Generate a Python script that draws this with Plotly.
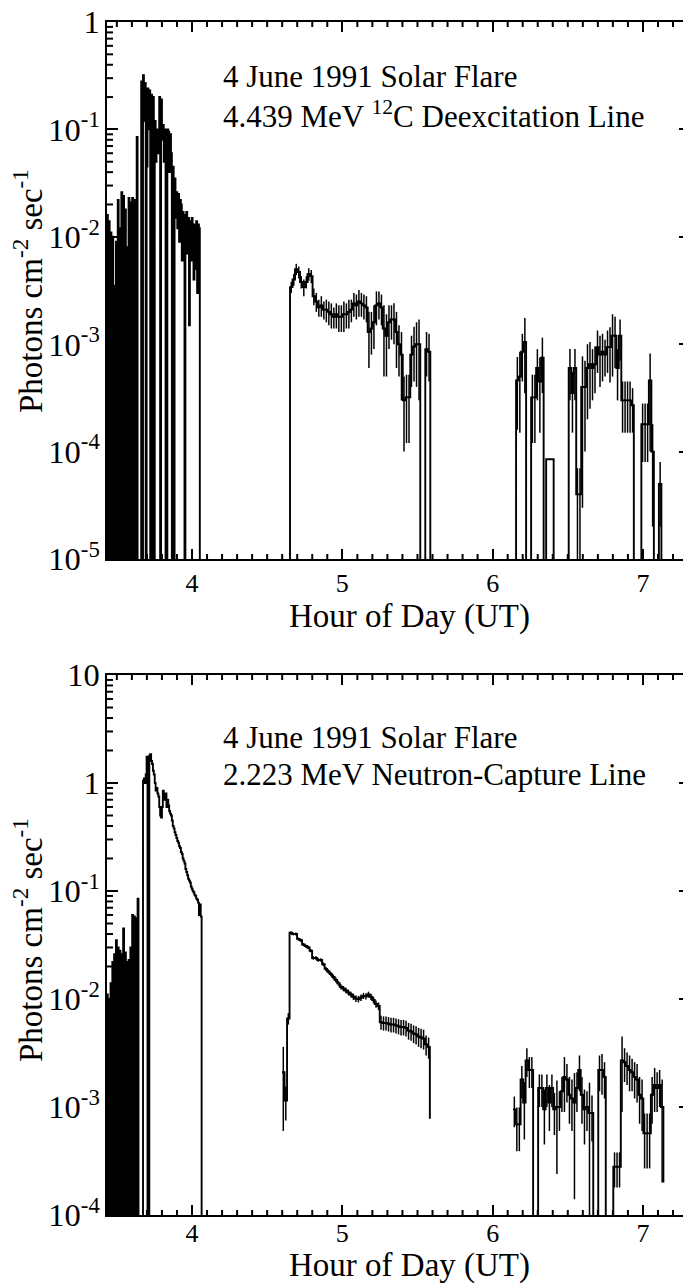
import numpy as np
import plotly.graph_objects as go
from plotly.subplots import make_subplots

# ---------------- data: photons cm^-2 s^-1 per time bin (0 = below plot floor) ----------------
# 4.439 MeV 12C line
c12_fast_start = 3.434
c12_fast_width = 0.006
c12_fast = [0.016, 0, 0.014, 0, 0.011, 0, 0.01, 0, 0.0035, 0,
            0.009, 0, 0.022, 0, 0.012, 0, 0.026, 0, 0.024, 0,
            0.018, 0, 0.008, 0, 0.023, 0, 0.021, 0, 0.023, 0,
            0.022, 0, 0.02, 0.085, 0, 0, 0, 0,
            0.28, 0, 0.32, 0.12, 0.27, 0, 0.045, 0.24, 0.1, 0.23,
            0, 0.21, 0, 0.2, 0, 0.12, 0.05, 0.1, 0.06, 0.09,
            0.2, 0, 0.19, 0.08, 0.11, 0.05, 0.1, 0, 0, 0.1,
            0.095, 0.04, 0.09, 0.06, 0, 0.045, 0, 0.035, 0.015, 0.026,
            0.012, 0.025, 0.009, 0.022, 0.02, 0.006, 0.017, 0.008, 0, 0.016,
            0.017, 0.007, 0.015, 0.0015, 0.014, 0.006, 0.015, 0.012, 0.004, 0.013,
            0.005, 0.014, 0.003, 0.013, 0.012, 0]

c12_mid_start = 4.652
c12_mid = [0.0034, 0.0040, 0.0050, 0.0047, 0.0038, 0.0034, 0.0038, 0.0045, 0.0043, 0.0028,
           0.0025, 0.0022, 0.0023, 0.0021, 0.0021, 0.0020, 0.0019, 0.0018, 0.0019, 0.0018,
           0.0018, 0.0019, 0.0019, 0.0020, 0.0021, 0.0024, 0.0023, 0.0025, 0.0024, 0.0023,
           0.0022, 0.0013, 0.0014, 0.0016, 0.0023, 0.0024, 0.0022, 0.0014, 0.0012, 0.0016,
           0.0017, 0.0017, 0.0013, 0.0010, 0.0008, 0.0003, 0.00032, 0.00032, 0.0008, 0.00095,
           0.0010, 0.0010, 0, 0, 0.0009, 0.00085]
c12_mid_err = [0.0004, 0.0005, 0.0006, 0.0006, 0.0005, 0.0006, 0.0005, 0.0006, 0.0006, 0.0005,
               0.0005, 0.0004, 0.0005, 0.0004, 0.0005, 0.0005, 0.0005, 0.0004, 0.0005, 0.0005,
               0.0005, 0.0006, 0.0005, 0.0006, 0.0005, 0.0006, 0.0006, 0.0007, 0.0006, 0.0006,
               0.0006, 0.0007, 0.0006, 0.0007, 0.0008, 0.0007, 0.0007, 0.0009, 0.0007, 0.0007,
               0.0006, 0.0007, 0.0007, 0.0005, 0.0005, 0.0002, 0.0002, 0.0002, 0.0004, 0.0005,
               0.0006, 0.0007, 0, 0, 0.0004, 0.0004]

c12_late_start = 6.156
c12_late = [0.00046, 0.0005, 0.00085, 0.00105, 0, 0, 0.00032, 0.00032, 0.0006, 0.00045,
            0.00075, 0, 0.000085, 0.000085, 0.000085, 0, 0, 0, 0, 0,
            0, 0.0006, 0.00035, 0.0006, 0.00004, 0.00004, 0.0004, 0.0004, 0.0006, 0.00065,
            0.0006, 0.00065, 0.00094, 0.0008, 0.00085, 0.0008, 0.00094, 0.00094, 0.0012, 0.0012,
            0.0006, 0.0012, 0.0003, 0.0003, 0.0003, 0.0003, 0.00027, 0, 0, 0,
            0.00018, 0.00018, 0.00018, 0.00046, 0.0001, 0, 0, 0.00005, 0]
c12_late_err = [0.0003, 0.00035, 0.0004, 0.0007, 0, 0, 0.0002, 0.0002, 0.0003, 0.0003,
                0.0004, 0, 0, 0, 0, 0, 0, 0, 0, 0,
                0, 0.0003, 0.0002, 0.0003, 0.00003, 0.00003, 0.00037, 0.0003, 0.0004, 0.0004,
                0.0003, 0.0003, 0.0004, 0.0004, 0.0004, 0.0003, 0.0004, 0.0005, 0.0007, 0.0006,
                0.0003, 0.0005, 0.00015, 0.00015, 0.00015, 0.00015, 0.00012, 0, 0, 0,
                0.0001, 0.0001, 0.0001, 0.00036, 0.00008, 0, 0, 0.00003, 0]

# 2.223 MeV neutron-capture line
nc_fast_start = 3.434
nc_fast_width = 0.006
nc_fast = [0.011, 0, 0.01, 0, 0.014, 0, 0.022, 0, 0.026, 0,
           0.035, 0, 0.03, 0, 0.028, 0, 0.026, 0, 0.045, 0,
           0.027, 0, 0.022, 0, 0.023, 0, 0.03, 0, 0.06, 0,
           0.058, 0, 0.056, 0, 0.085, 0, 0, 0, 0, 0,
           1.05, 1.1, 1.0, 1.2, 1.75, 0, 0, 1.8, 1.85, 1.6,
           1.5, 1.3, 1.2, 1.0, 0.85, 0.9, 0.8, 0.75, 0.6, 0.5,
           0.48, 0.6, 0.85, 0.8, 0.7, 0.8, 0.6, 0.7, 0.62, 0.55,
           0.52, 0.5, 0.45, 0.4, 0.38, 0.35, 0.33, 0.31, 0.29, 0.28,
           0.26, 0.25, 0.23, 0.22, 0.2, 0.19, 0.18, 0.16, 0.15, 0.14,
           0.13, 0.125, 0.12, 0.11, 0.105, 0.1, 0.097, 0.092, 0.09, 0.085,
           0.083, 0.078, 0.06, 0.075, 0.058, 0]

nc_mid_start = 4.599
nc_mid_end = 0.00078
nc_mid = [0.0021, 0.00115, 0.0066, 0.041, 0.040, 0.040, 0.036, 0.035, 0.032, 0.031,
          0.030, 0.028, 0.024, 0.024, 0.023, 0.023, 0.021, 0.019, 0.018, 0.017,
          0.016, 0.015, 0.014, 0.013, 0.0125, 0.012, 0.0115, 0.011, 0.0105, 0.0101,
          0.010, 0.0103, 0.0107, 0.0106, 0.011, 0.0105, 0.0098, 0.009, 0.0086, 0.0061,
          0.0060, 0.0060, 0.0059, 0.0058, 0.0058, 0.0057, 0.0056, 0.0055, 0.0055, 0.0054,
          0.0051, 0.0050, 0.0048, 0.0047, 0.0045, 0.0044, 0.0043, 0.0038, 0.0036]
nc_mid_err = [0.0015, 0.0004, 0.0008, 0.0012, 0.0012, 0.0012, 0.0011, 0.0011, 0.001, 0.001,
              0.001, 0.0009, 0.0009, 0.0009, 0.0009, 0.0009, 0.0008, 0.0008, 0.0008, 0.0008,
              0.0008, 0.0008, 0.0007, 0.0007, 0.0007, 0.0007, 0.0007, 0.0007, 0.0007, 0.0007,
              0.0007, 0.0007, 0.0007, 0.0007, 0.0007, 0.0007, 0.0007, 0.0007, 0.0007, 0.0009,
              0.0009, 0.0009, 0.0009, 0.0009, 0.0009, 0.0009, 0.0009, 0.0009, 0.0009, 0.0009,
              0.0009, 0.0009, 0.0009, 0.0009, 0.0009, 0.0009, 0.0009, 0.0008, 0.0008]

nc_late_start = 6.136
nc_late_end = 0.0002
nc_late = [0.00095, 0.00069, 0.00069, 0.0018, 0.0011, 0.0027, 0.0022, 0.0022, 0, 0,
           0.0015, 0.0015, 0.00095, 0.0015, 0.0011, 0.0015, 0.00095, 0.001, 0.001, 0.0014,
           0.0019, 0.0018, 0.0013, 0.0012, 0.0011, 0.0015, 0.0022, 0.0013, 0.00095, 0.001,
           0.00088, 0.00088, 0, 0, 0.0022, 0.0022, 0.0019, 0, 0, 0,
           0.00028, 0.00028, 0.00028, 0.0027, 0.0026, 0.0024, 0.0022, 0.0021, 0.0019, 0.0018,
           0.0013, 0.0012, 0.00057, 0.00057, 0.00057, 0.0013, 0.0016, 0.0015, 0.0016, 0.001]
nc_late_err = [0.0003, 0.0003, 0.0003, 0.0006, 0.0006, 0.0008, 0.0007, 0.0007, 0, 0,
               0.0005, 0.0005, 0.0005, 0.0005, 0.0005, 0.0005, 0.0004, 0.00076, 0.0004, 0.0005,
               0.001, 0.0007, 0.0006, 0.0006, 0.00096, 0.0006, 0.0008, 0.0006, 0.0005, 0.0004,
               0.0008, 0.0004, 0, 0, 0.0008, 0.0009, 0.0007, 0, 0, 0,
               0.0001, 0.0001, 0.0001, 0.0018, 0.0009, 0.0008, 0.0008, 0.0007, 0.0007, 0.0007,
               0.0006, 0.0006, 0.0003, 0.0003, 0.0003, 0.0006, 0.0007, 0.0006, 0.0006, 0.0008]

minute = 1.0 / 60

# default plotly log labels -> the hyphen style used on the original figure
y_exponents = [-5, -4, -3, -2, -1]
y_tick_text = ["10<sup>-5</sup>", "10<sup>-4</sup>", "10<sup>-3</sup>", "10<sup>-2</sup>", "10<sup>-1</sup>"]

FLOOR = 1e-8
FONT = "Liberation Serif"
X_RANGE = [3.4345, 7.313]
Y_RANGES = [[-5, 0], [-4, 1]]


def steps(start, width, vals, first=0.0, last=0.0):
    # histogram outline drawn with an hv step line
    edges = start + width * np.arange(len(vals) + 1)
    if first is None:
        first = vals[0]
    x = np.concatenate([[edges[0]], edges])
    y = np.array([first] + list(vals) + [last], dtype=float)
    y[y <= 0] = FLOOR
    return x, y


def err_points(start, width, vals, errs):
    xs, ys, es = [], [], []
    for i, (v, e) in enumerate(zip(vals, errs)):
        if v > 0 and e > 0:
            xs.append(start + width * (i + 0.5))
            ys.append(v)
            es.append(e)
    return xs, ys, es


fig = make_subplots(rows=2, cols=1, vertical_spacing=0.1)

segments = [
    (1, c12_fast_start, c12_fast_width, c12_fast, None, 0.0, 0.0),
    (1, c12_mid_start, minute, c12_mid, c12_mid_err, 0.0, 0.0),
    (1, c12_late_start, minute, c12_late, c12_late_err, 0.0, 0.0),
    (2, nc_fast_start, nc_fast_width, nc_fast, None, 0.0, 0.0),
    (2, nc_mid_start, minute, nc_mid, nc_mid_err, None, nc_mid_end),
    (2, nc_late_start, minute, nc_late, nc_late_err, None, nc_late_end),
]

for row, start, width, vals, errs, first, last in segments:
    x, y = steps(start, width, vals, first, last)
    fig.add_trace(
        go.Scatter(x=x, y=y, mode="lines",
                   line=dict(color="black", width=1.9, shape="hv", simplify=False),
                   hoverinfo="skip", showlegend=False),
        row=row, col=1,
    )
    if errs is not None:
        ex, ey, ee = err_points(start, width, vals, errs)
        fig.add_trace(
            go.Scatter(x=ex, y=ey, mode="markers", marker=dict(size=2, color="black"),
                       error_y=dict(type="data", array=ee, symmetric=True, width=0,
                                    thickness=1.5, color="black"),
                       hoverinfo="skip", showlegend=False),
            row=row, col=1,
        )

# pixel geometry of the two frames, in picture coordinates;
# the html body adds an 8 px margin, so the figure is drawn 8 px smaller
OFF = 8
L, R, T, B = 107, 690, 22, 1215
W, H = 691 - OFF, 1288 - OFF


def px_x(px):
    return (px - L) / (R - L)


def px_y(py):
    return (B - py) / (B - T)


tick_font = dict(family=FONT, size=26, color="black")
axis_style = dict(
    showline=True, linecolor="black", linewidth=2, mirror="allticks",
    ticks="inside", tickcolor="black", tickwidth=2,
    showgrid=False, zeroline=False, automargin=False,
    ticklabeloverflow="allow", tickfont=tick_font,
)

fig.update_xaxes(range=X_RANGE, tickmode="linear", tick0=4, dtick=1, ticklen=10,
                 domain=[0, 1], **axis_style)
fig.update_xaxes(ticklabelstandoff=0, row=1, col=1)
fig.update_xaxes(ticklabelstandoff=-6, row=2, col=1)

alias = {"10<sup>\u2212%d</sup>" % (-e): t for e, t in zip(y_exponents, y_tick_text)}
fig.update_yaxes(type="log", tickmode="linear", tick0=0, dtick=1, exponentformat="power",
                 labelalias=alias, ticklen=11, ticklabelstandoff=0, **axis_style)
fig.update_yaxes(range=Y_RANGES[0], domain=[px_y(559), 1.0], row=1, col=1)
fig.update_yaxes(range=Y_RANGES[1], domain=[0.0, px_y(675)], row=2, col=1)

# minor ticks (every 6 minutes on x, 2..9 per decade on y), drawn inside on all four sides
minor_x = [t for t in np.round(np.arange(3.5, X_RANGE[1], 0.1), 1) if abs(t - round(t)) > 1e-6]
tick_line = dict(color="black", width=2)
shapes = []
for n, (xa, ya) in enumerate([("x", "y"), ("x2", "y2")]):
    lo, hi = Y_RANGES[n]
    for t in minor_x:
        for anchor, sign in [(0, 1), (1, -1)]:
            shapes.append(dict(type="line", xref=xa, yref=ya + " domain", x0=t, x1=t,
                               ysizemode="pixel", yanchor=anchor, y0=0, y1=5 * sign,
                               line=tick_line))
    for k in range(lo, hi):
        for m in range(2, 10):
            frac = (np.log10(m * 10.0 ** k) - lo) / (hi - lo)
            for anchor, sign in [(0, 1), (1, -1)]:
                shapes.append(dict(type="line", xref=xa + " domain", yref=ya + " domain",
                                   y0=frac, y1=frac, xsizemode="pixel", xanchor=anchor,
                                   x0=0, x1=6 * sign, line=tick_line))

ann_font = dict(family=FONT, size=31, color="black")
title_font = dict(family=FONT, size=33, color="black")
ytitle = "Photons cm<sup>-2</sup> sec<sup>-1</sup>"
xtitle = "Hour of Day (UT)"

annotations = [
    dict(text="4 June 1991 Solar Flare", x=px_x(221), y=px_y(76), xanchor="left", yanchor="middle", font=ann_font),
    dict(text="4.439 MeV <sup>12</sup>C Deexcitation Line", x=px_x(221), y=px_y(114), xanchor="left", yanchor="middle", font=ann_font),
    dict(text="4 June 1991 Solar Flare", x=px_x(221), y=px_y(737), xanchor="left", yanchor="middle", font=ann_font),
    dict(text="2.223 MeV Neutron-Capture Line", x=px_x(221), y=px_y(775), xanchor="left", yanchor="middle", font=ann_font),
    dict(text=xtitle, x=px_x(409), y=px_y(616), xanchor="center", yanchor="middle", font=title_font),
    dict(text=xtitle, x=px_x(409), y=px_y(1265), xanchor="center", yanchor="middle", font=title_font),
    dict(text=ytitle, x=px_x(28), y=px_y(291), textangle=-90, xanchor="center", yanchor="middle", font=title_font),
    dict(text=ytitle, x=px_x(28), y=px_y(940), textangle=-90, xanchor="center", yanchor="middle", font=title_font),
]
for a in annotations:
    a.update(xref="paper", yref="paper", showarrow=False)

fig.update_layout(
    template="none",
    width=W, height=H,
    margin=dict(l=L - OFF, r=691 - R, t=T - OFF, b=1288 - B, autoexpand=False),
    paper_bgcolor="white", plot_bgcolor="white",
    showlegend=False,
    font=dict(family=FONT, color="black"),
    annotations=annotations,
    shapes=shapes,
)

fig.write_html("out.html")
